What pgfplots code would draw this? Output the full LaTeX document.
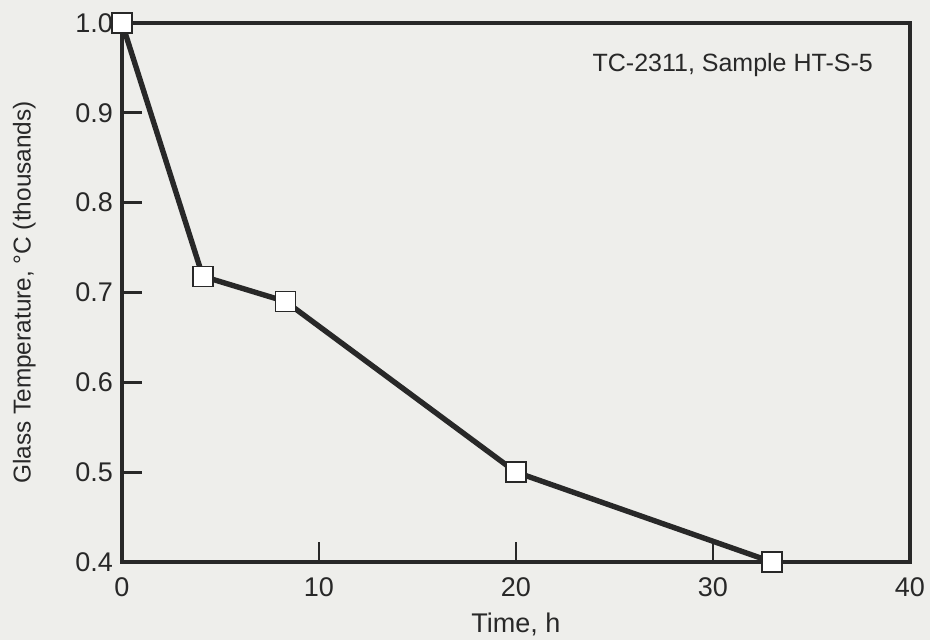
\documentclass[border=0pt]{standalone}
\usepackage{pgfplots}
\pgfplotsset{compat=1.18}
\usepackage{fontspec}
\setmainfont{Liberation Sans}
\definecolor{paper}{RGB}{238,238,235}
\definecolor{ink}{RGB}{40,40,40}
\begin{document}
\begin{tikzpicture}
\fill[paper] (-61pt,-39pt) rectangle (404pt,281pt);
\useasboundingbox (-61pt,-39pt) rectangle (404pt,281pt);
\begin{axis}[
  at={(0pt,0pt)}, anchor=south west,
  scale only axis,
  width=394pt, height=269.5pt,
  xmin=0, xmax=40, ymin=0.4, ymax=1.0,
  xtick={0,10,20,30,40},
  ytick={0.4,0.5,0.6,0.7,0.8,0.9,1.0},
  yticklabel style={/pgf/number format/fixed, /pgf/number format/fixed zerofill, /pgf/number format/precision=1},
  /pgf/number format/assume math mode=true,
  tick align=inside,
  xtick pos=bottom, ytick pos=left,
  major tick length=10pt,
  tick style={line width=1.4pt, ink},
  axis line style={line width=1.6pt, ink},
  every tick label/.append style={font=\fontsize{13.5}{15}\selectfont, text=ink},
  xticklabel style={yshift=-4.5pt},
  yticklabel style={xshift=-1pt},
  xlabel={Time, h},
  ylabel={Glass Temperature, °C (thousands)},
  xlabel style={font=\fontsize{13.5}{15}\selectfont, text=ink, yshift=-1pt},
  ylabel style={font=\fontsize{12.2}{14}\selectfont, text=ink, yshift=13pt},
  clip=false,
]
\addplot[ink, line width=2.7pt, mark=square*, mark size=5pt,
  mark options={fill=white, draw=ink, line width=0.8pt}]
  coordinates {(0,1.0) (4.1,0.718) (8.3,0.69) (20,0.5) (33,0.4)};
\node[font=\fontsize{12.5}{14}\selectfont, text=ink] at (axis cs:31.0,0.953) {TC-2311, Sample HT-S-5};
\end{axis}
\end{tikzpicture}
\end{document}
